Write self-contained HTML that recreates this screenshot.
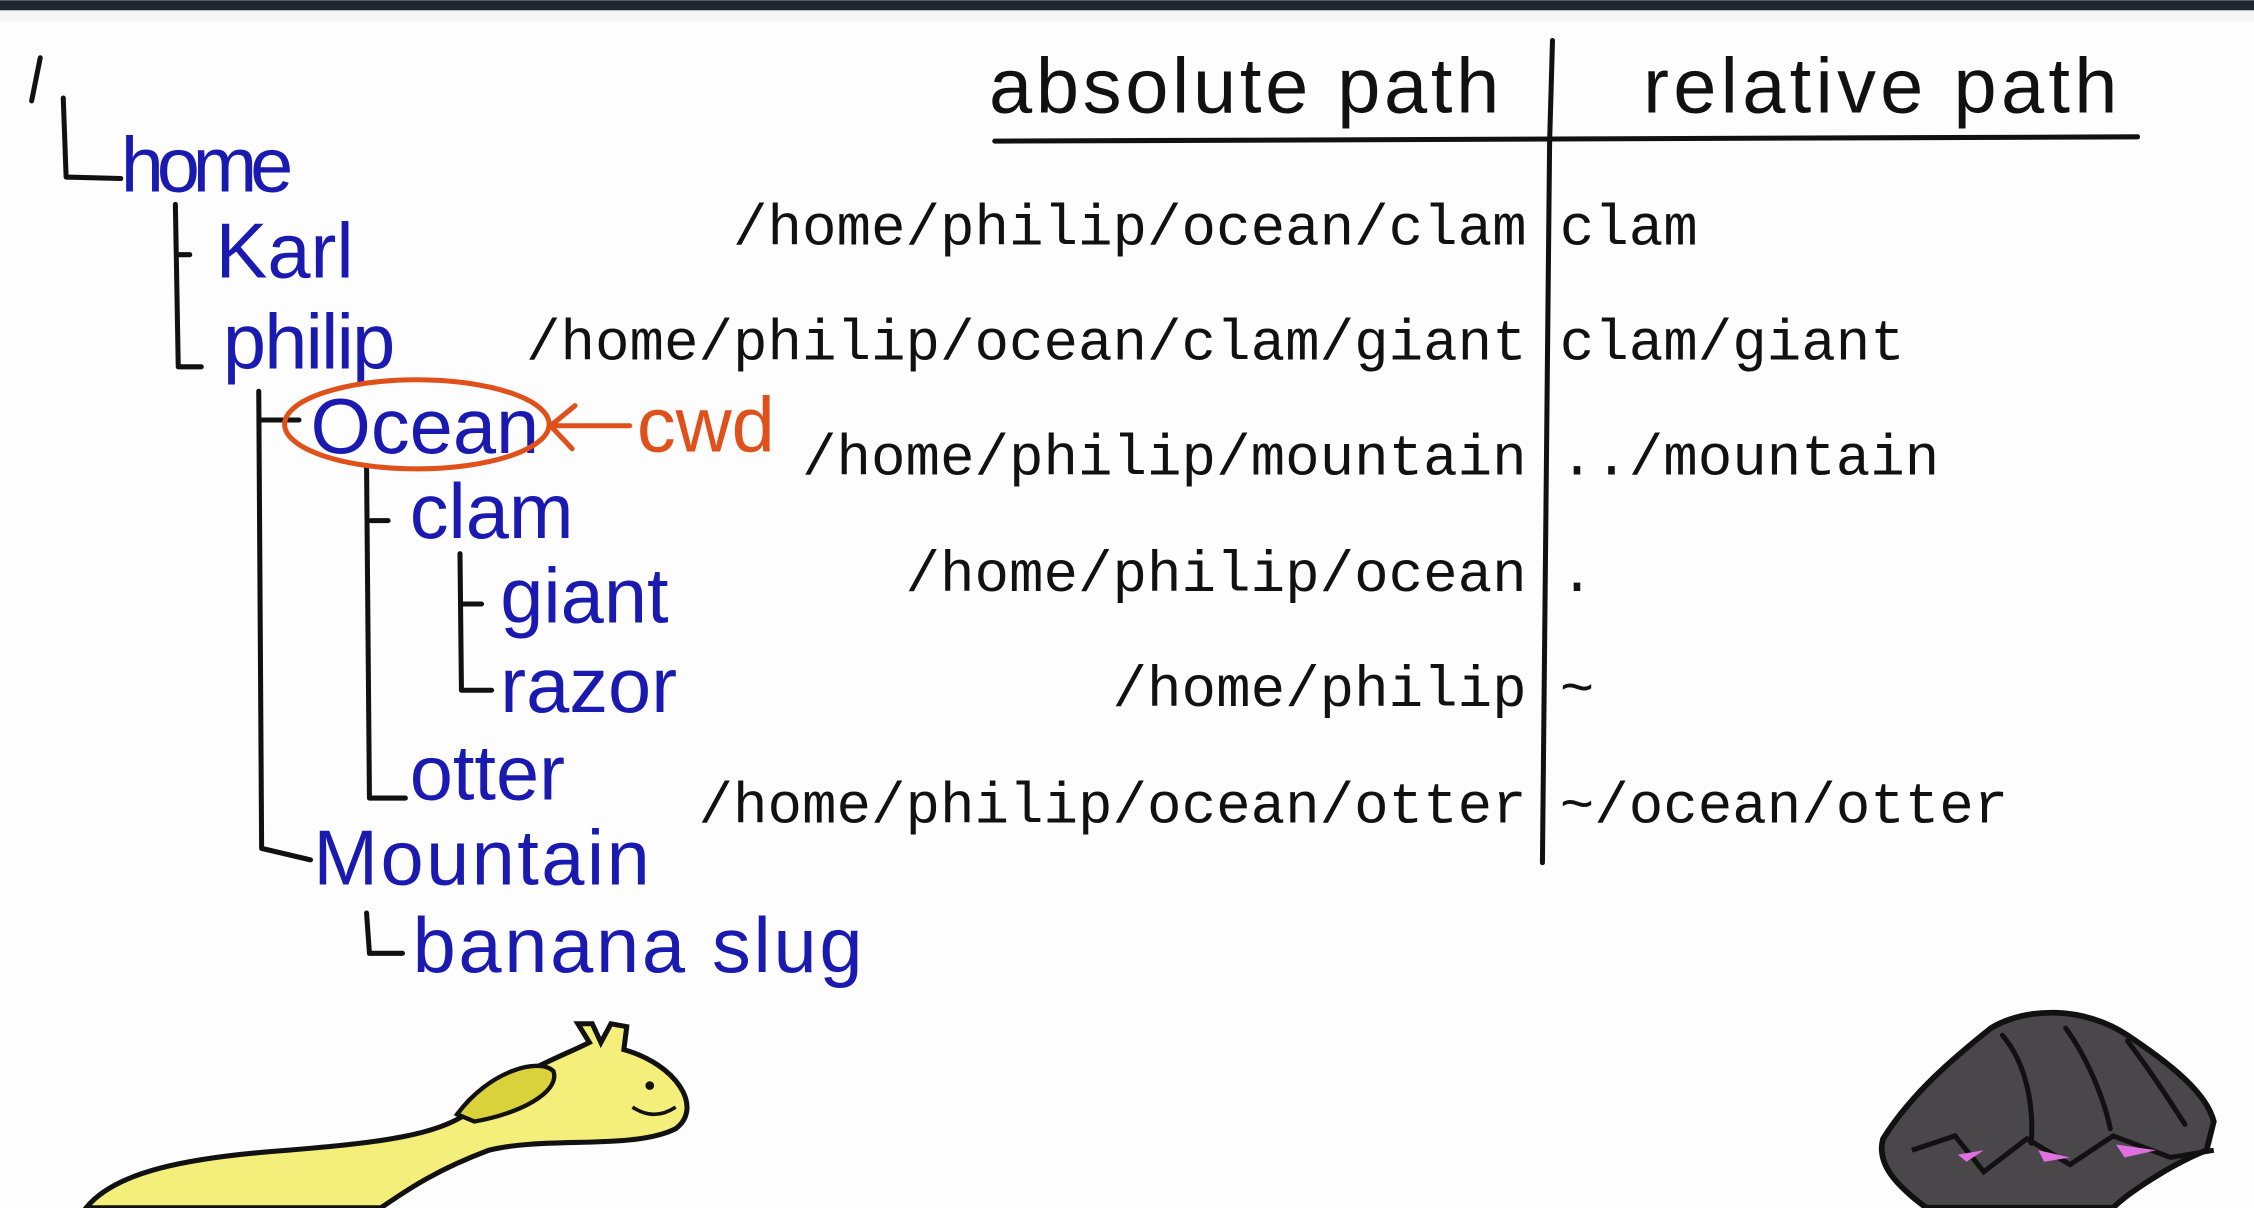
<!DOCTYPE html>
<html><head><meta charset="utf-8"><style>
html,body{margin:0;padding:0;background:#fff;}
svg{display:block;}
.h{font-family:"Liberation Sans",sans-serif;fill:#1a1ab0;}
.m{font-family:"Liberation Mono",monospace;font-size:40px;fill:#111;}
.k{stroke:#111;stroke-width:3.5;fill:none;stroke-linecap:round;stroke-linejoin:round;}
</style></head><body>
<svg width="2254" height="1208" viewBox="0 0 1568 840" xmlns="http://www.w3.org/2000/svg">
<rect width="1568" height="840" fill="#fdfdfd"/>
<rect width="1568" height="7" fill="#1f2630"/>
<rect y="7" width="1568" height="8" fill="#ececec" opacity="0.4"/>
<!-- headers -->
<text x="688" y="78" font-family="Liberation Sans,sans-serif" font-size="54" fill="#111" textLength="355">absolute path</text>
<text x="1143" y="78" font-family="Liberation Sans,sans-serif" font-size="54" fill="#111" textLength="330">relative path</text>
<path class="k" d="M692 98 L1487 95"/>
<path class="k" d="M1080 28 L1078 98 L1073 600"/>
<!-- table -->
<g class="m" text-anchor="end">
<text x="1062" y="170">/home/philip/ocean/clam</text>
<text x="1062" y="250">/home/philip/ocean/clam/giant</text>
<text x="1062" y="330">/home/philip/mountain</text>
<text x="1062" y="411">/home/philip/ocean</text>
<text x="1062" y="491">/home/philip</text>
<text x="1062" y="572">/home/philip/ocean/otter</text>
</g>
<g class="m">
<text x="1085" y="170">clam</text>
<text x="1085" y="250">clam/giant</text>
<text x="1085" y="330">../mountain</text>
<text x="1085" y="411">.</text>
<text x="1085" y="491">~</text>
<text x="1085" y="572">~/ocean/otter</text>
</g>
<!-- tree -->
<path class="k" stroke="#1a1ab0" d="M28 40 L22 70"/>
<path class="k" d="M44 68 L46 123 L84 124"/>
<path class="k" d="M122 142 L124 255 L140 255 M124 177 L132 177"/>
<path class="k" d="M180 272 L182 590 L216 598 M182 292 L208 292"/>
<path class="k" d="M255 325 L257 555 L282 555 M258 362 L270 362"/>
<path class="k" d="M320 385 L321 480 L342 480 M321 420 L335 420"/>
<path class="k" d="M255 635 L257 663 L280 663"/>
<g class="h">
<text x="84" y="133" font-size="54" textLength="120">home</text>
<text x="150" y="193" font-size="54">Karl</text>
<text x="155" y="256" font-size="54" textLength="120">philip</text>
<text x="216" y="315" font-size="54">Ocean</text>
<text x="285" y="374" font-size="54">clam</text>
<text x="348" y="433" font-size="54">giant</text>
<text x="348" y="495" font-size="54">razor</text>
<text x="285" y="556" font-size="54">otter</text>
<text x="218" y="615" font-size="54" textLength="234">Mountain</text>
<text x="287" y="676" font-size="54" textLength="313">banana slug</text>
</g>
<!-- cwd -->
<ellipse cx="290" cy="295" rx="92" ry="31" fill="none" stroke="#e0501a" stroke-width="3.5"/>
<path d="M438 296 L385 296 M400 282 L383 296 L398 312" fill="none" stroke="#e0501a" stroke-width="3.5" stroke-linecap="round"/>
<text x="443" y="314" font-family="Liberation Sans,sans-serif" font-size="54" fill="#e0501a">cwd</text>
<!-- slug -->
<path d="M60 840 C80 815 130 805 200 800 C260 795 310 790 330 770 C350 750 390 735 410 725 L402 712 L412 712 L418 725 L425 712 L436 714 L434 730 C470 740 490 770 470 785 C440 800 380 790 340 800 C300 815 280 830 265 840 Z" fill="#f3ef7a" stroke="#111" stroke-width="3.5"/>
<path d="M318 775 C340 745 375 735 385 745 C390 760 360 775 330 780 Z" fill="#d9d23a" stroke="#111" stroke-width="3"/>
<circle cx="452" cy="755" r="3" fill="#111"/>
<path d="M440 770 Q455 780 470 770" fill="none" stroke="#111" stroke-width="2.5"/>
<!-- clam -->
<path d="M1310 792 C1330 760 1360 735 1385 715 C1410 700 1450 700 1480 720 C1510 740 1535 760 1540 780 L1535 800 C1510 810 1480 830 1470 840 L1340 840 C1320 825 1305 810 1310 792 Z" fill="#4a474b" stroke="#111" stroke-width="4"/>
<path class="k" d="M1393 720 C1410 740 1415 770 1413 795 M1437 715 C1455 740 1465 770 1468 785 M1480 724 C1500 750 1512 770 1520 782" stroke-width="3"/>
<path d="M1330 800 L1360 790 L1380 815 L1410 792 L1440 810 L1470 790 L1510 805 L1540 800" fill="none" stroke="#111" stroke-width="3.5"/>
<path d="M1362 803 L1380 800 L1368 808 Z M1418 800 L1440 805 L1422 808 Z M1472 796 L1500 800 L1478 805 Z" fill="#e070e0"/>
</svg>
</body></html>
